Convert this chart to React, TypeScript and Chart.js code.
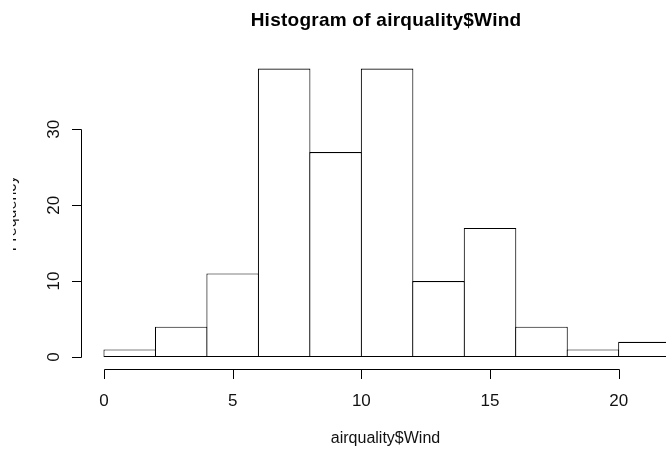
import React, { useEffect, useRef } from "react";
import { Chart, registerables } from "chart.js";

Chart.register(...registerables);

const binStarts = [0, 2, 4, 6, 8, 10, 12, 14, 16, 18, 20];
const binWidth = 2;
const counts = [1, 4, 11, 38, 27, 38, 10, 17, 4, 1, 2];
const xTicks = [0, 5, 10, 15, 20];
const yTicks = [0, 10, 20, 30];
const titleText = "Histogram of airquality$Wind";
const xLabel = "airquality$Wind";
const yLabel = "Frequency";

const FONT = '"Liberation Sans", Arial, sans-serif';

export default function App() {
  const ref = useRef<HTMLCanvasElement>(null);

  useEffect(() => {
    const canvas = ref.current!;
    const rAxes = {
      id: "rAxes",
      afterDraw(chart: any) {
        const ctx = chart.ctx as CanvasRenderingContext2D;
        const xs = chart.scales.x;
        const ys = chart.scales.y;
        const crisp = (v: number) => Math.round(v) + 0.5;
        ctx.save();
        ctx.strokeStyle = "#000";
        ctx.fillStyle = "#000";
        ctx.lineWidth = 1;

        // x axis
        const axY = crisp(ys.bottom + 12);
        ctx.beginPath();
        ctx.moveTo(crisp(xs.getPixelForValue(xTicks[0])), axY);
        ctx.lineTo(crisp(xs.getPixelForValue(xTicks[xTicks.length - 1])), axY);
        xTicks.forEach((t) => {
          const px = crisp(xs.getPixelForValue(t));
          ctx.moveTo(px, axY);
          ctx.lineTo(px, axY + 9.5);
        });
        // y axis
        const axX = crisp(xs.left - 23);
        ctx.moveTo(axX, crisp(ys.getPixelForValue(yTicks[0])));
        ctx.lineTo(axX, crisp(ys.getPixelForValue(yTicks[yTicks.length - 1])));
        yTicks.forEach((t) => {
          const py = crisp(ys.getPixelForValue(t));
          ctx.moveTo(axX, py);
          ctx.lineTo(axX - 9.5, py);
        });
        ctx.stroke();

        // x tick labels
        ctx.fillStyle = "#111";
        ctx.font = `17px ${FONT}`;
        ctx.textAlign = "center";
        ctx.textBaseline = "alphabetic";
        xTicks.forEach((t) => {
          ctx.fillText(String(t), xs.getPixelForValue(t), 406);
        });
        // y tick labels (rotated)
        yTicks.forEach((t) => {
          ctx.save();
          ctx.translate(58.5, ys.getPixelForValue(t));
          ctx.rotate(-Math.PI / 2);
          ctx.fillText(String(t), 0, 0);
          ctx.restore();
        });

        // x label
        ctx.font = `16px ${FONT}`;
        ctx.fillText(xLabel, 385.5, 443);

        // y label (clipped at left, like the reference)
        ctx.save();
        ctx.beginPath();
        ctx.rect(13, 0, 700, 454);
        ctx.clip();
        ctx.translate(16, 213.5);
        ctx.rotate(-Math.PI / 2);
        ctx.font = `16px ${FONT}`;
        ctx.fillText(yLabel, 0, 0);
        ctx.restore();

        // title
        ctx.fillStyle = "#000";
        ctx.font = `bold 19px ${FONT}`;
        (ctx as any).letterSpacing = "0.25px";
        ctx.fillText(titleText, 386, 26);
        ctx.restore();
      },
    };

    const chart = new Chart(canvas, {
      type: "bar",
      data: {
        datasets: [
          {
            data: binStarts.map((s, i) => ({ x: s + binWidth / 2, y: counts[i] })),
            backgroundColor: "#ffffff",
            borderColor: "#000000",
            borderWidth: 1.1,
            borderSkipped: false,
            barPercentage: 1.0214,
            categoryPercentage: 1,
            inflateAmount: 0,
            clip: { left: 2, top: 2, right: 0, bottom: 2 },
          } as any,
        ],
      },
      options: {
        animation: false,
        responsive: false,
        maintainAspectRatio: false,
        events: [],
        layout: { padding: { left: 104, right: 0, top: 68.6, bottom: 97 } },
        plugins: {
          legend: { display: false },
          tooltip: { enabled: false },
          title: { display: false },
        },
        scales: {
          x: {
            type: "linear",
            display: false,
            min: 0,
            max: 21.838,
            offset: false,
            grid: { offset: false },
            ticks: { stepSize: 2, includeBounds: false },
          },
          y: {
            type: "linear",
            display: false,
            min: 0,
            max: 38,
          },
        },
      } as any,
      plugins: [rAxes],
    });
    return () => chart.destroy();
  }, []);

  return (
    <div style={{ position: "fixed", left: 0, top: 0, width: 666, height: 454, background: "#fff" }}>
      <canvas ref={ref} width={666} height={454} style={{ display: "block" }} />
    </div>
  );
}
